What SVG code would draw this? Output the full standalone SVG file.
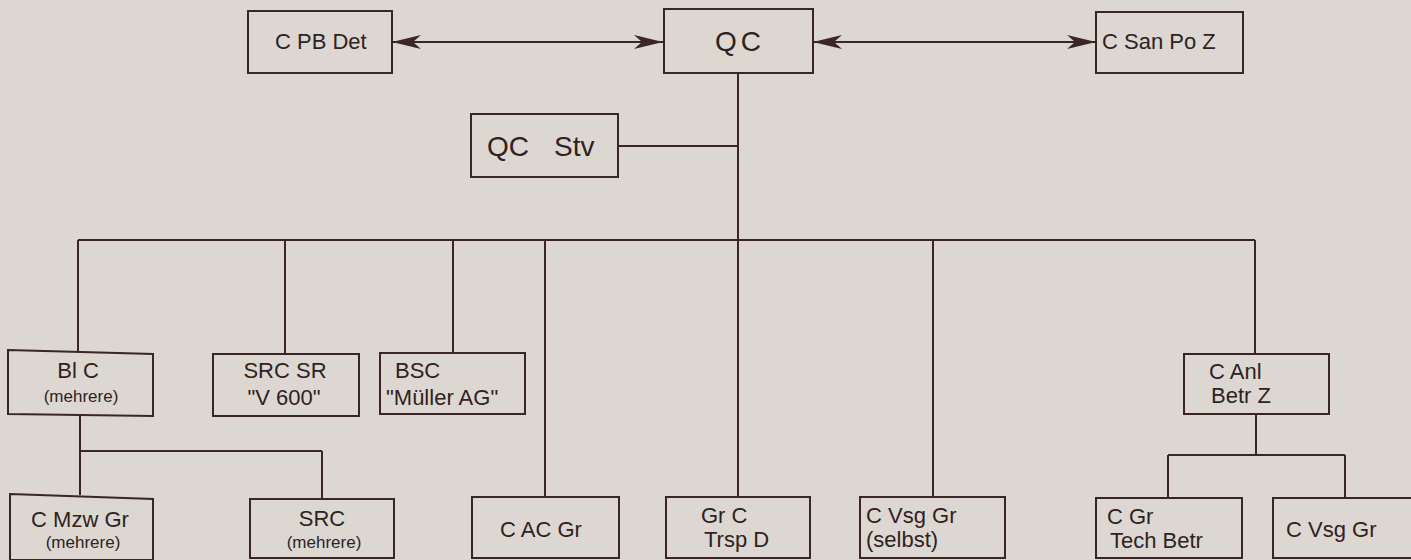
<svg xmlns="http://www.w3.org/2000/svg" width="1411" height="560" viewBox="0 0 1411 560">
  <defs>
    <marker id="arr" markerUnits="userSpaceOnUse" markerWidth="32" markerHeight="18" viewBox="-31 -9 32 18" refX="0" refY="0" orient="auto">
      <path d="M0,0 L-29,-7 L-21,0 L-29,7 Z" fill="#3a2626"/>
    </marker>
  </defs>
  <style>
    .box { fill: none; stroke: #3a2626; stroke-width: 2; }
    .ln { fill: none; stroke: #3a2626; stroke-width: 2; }
    text { font-family: "Liberation Sans", Arial, sans-serif; fill: #2e2222; font-size: 22px; }
    .big { font-size: 28px; }
    .sm { font-size: 17px; }
  </style>
  <rect x="0" y="0" width="1411" height="560" fill="#dcd8d1"/>

  <g id="connectors">
    <line class="ln" x1="421" y1="42" x2="634" y2="42"/>
    <line class="ln" x1="842" y1="42" x2="1067" y2="42"/>
    <line class="ln" x1="421" y1="42" x2="392" y2="42" marker-end="url(#arr)"/>
    <line class="ln" x1="634" y1="42" x2="663" y2="42" marker-end="url(#arr)"/>
    <line class="ln" x1="842" y1="42" x2="813" y2="42" marker-end="url(#arr)"/>
    <line class="ln" x1="1067" y1="42" x2="1096" y2="42" marker-end="url(#arr)"/>
    <line class="ln" x1="738" y1="73" x2="738" y2="497"/>
    <line class="ln" x1="618" y1="146" x2="738" y2="146"/>
    <line class="ln" x1="78" y1="240" x2="1255" y2="240"/>
    <line class="ln" x1="78" y1="240" x2="78" y2="351"/>
    <line class="ln" x1="285" y1="240" x2="285" y2="354"/>
    <line class="ln" x1="453" y1="240" x2="453" y2="353"/>
    <line class="ln" x1="545" y1="240" x2="545" y2="497"/>
    <line class="ln" x1="933" y1="240" x2="933" y2="497"/>
    <line class="ln" x1="1255" y1="240" x2="1255" y2="354"/>
    <line class="ln" x1="80" y1="415" x2="80" y2="495"/>
    <line class="ln" x1="80" y1="451" x2="322" y2="451"/>
    <line class="ln" x1="322" y1="451" x2="322" y2="499"/>
    <line class="ln" x1="1256" y1="414" x2="1256" y2="455"/>
    <line class="ln" x1="1168" y1="455" x2="1345" y2="455"/>
    <line class="ln" x1="1168" y1="455" x2="1168" y2="498"/>
    <line class="ln" x1="1345" y1="455" x2="1345" y2="498"/>
  </g>

  <g id="qc">
    <rect class="box" x="664" y="9" width="149" height="64"/>
    <text class="big" x="715" y="51" letter-spacing="4">QC</text>
  </g>
  <g id="cpbdet">
    <rect class="box" x="248" y="11" width="144" height="62"/>
    <text x="275" y="49">C PB Det</text>
  </g>
  <g id="csanpoz">
    <rect class="box" x="1096" y="12" width="147" height="61"/>
    <text x="1102" y="49">C San Po Z</text>
  </g>
  <g id="qcstv">
    <rect class="box" x="471" y="114" width="147" height="63"/>
    <text class="big" x="487" y="156">QC</text>
    <text class="big" x="554" y="156">Stv</text>
  </g>

  <g id="blc">
    <path class="box" d="M8,350 L153,354 L153,416 L8,414 Z"/>
    <text x="78" y="378" text-anchor="middle">Bl C</text>
    <text class="sm" x="81" y="402" text-anchor="middle">(mehrere)</text>
  </g>
  <g id="srcsr">
    <rect class="box" x="213" y="354" width="146" height="62"/>
    <text x="285" y="378" text-anchor="middle">SRC SR</text>
    <text x="284" y="405" text-anchor="middle">"V 600"</text>
  </g>
  <g id="bsc">
    <rect class="box" x="380" y="353" width="145" height="61"/>
    <text x="395" y="378">BSC</text>
    <text x="386" y="405">"Müller AG"</text>
  </g>
  <g id="canl">
    <rect class="box" x="1184" y="354" width="145" height="60"/>
    <text x="1209" y="379">C Anl</text>
    <text x="1211" y="403">Betr Z</text>
  </g>

  <g id="cmzwgr">
    <path class="box" d="M10,494 L153,499 L153,560 L10,560 Z"/>
    <text x="80" y="527" text-anchor="middle">C Mzw Gr</text>
    <text class="sm" x="83" y="548" text-anchor="middle">(mehrere)</text>
  </g>
  <g id="src">
    <rect class="box" x="250" y="499" width="144" height="59"/>
    <text x="322" y="526" text-anchor="middle">SRC</text>
    <text class="sm" x="324" y="548" text-anchor="middle">(mehrere)</text>
  </g>
  <g id="cacgr">
    <rect class="box" x="472" y="497" width="147" height="61"/>
    <text x="541" y="537" text-anchor="middle">C AC Gr</text>
  </g>
  <g id="grctrspd">
    <rect class="box" x="666" y="497" width="144" height="61"/>
    <text x="701" y="523">Gr C</text>
    <text x="704" y="547">Trsp D</text>
  </g>
  <g id="cvsggrselbst">
    <rect class="box" x="860" y="497" width="145" height="61"/>
    <text x="866" y="523">C Vsg Gr</text>
    <text x="866" y="547">(selbst)</text>
  </g>
  <g id="cgrtechbetr">
    <rect class="box" x="1096" y="498" width="146" height="60"/>
    <text x="1107" y="524">C Gr</text>
    <text x="1110" y="548">Tech Betr</text>
  </g>
  <g id="cvsggr">
    <rect class="box" x="1273" y="498" width="150" height="60"/>
    <text x="1286" y="537">C Vsg Gr</text>
  </g>
</svg>
